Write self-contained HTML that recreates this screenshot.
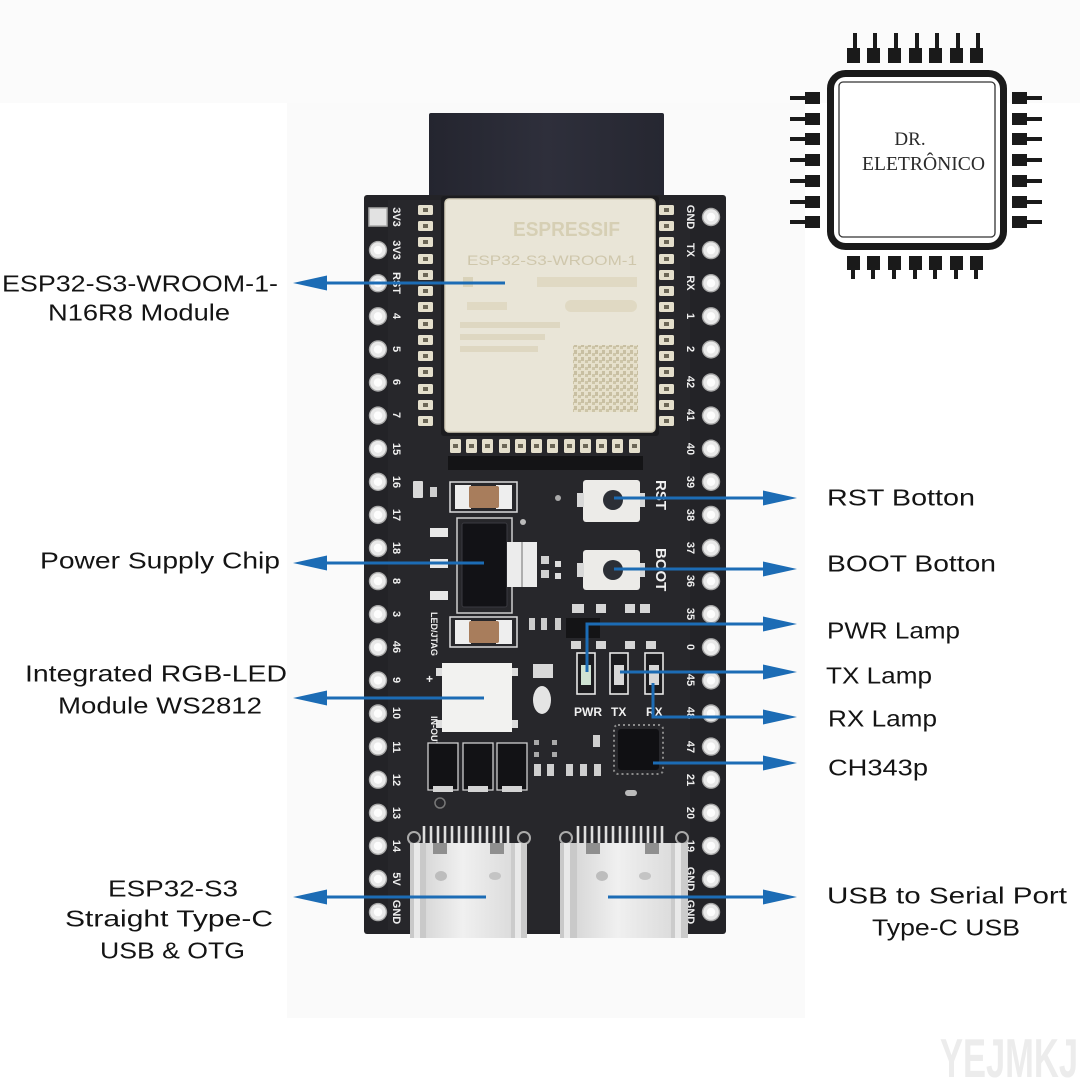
<!DOCTYPE html>
<html><head><meta charset="utf-8">
<style>
html,body{margin:0;padding:0;background:#fff;width:1080px;height:1080px;overflow:hidden;}
svg{display:block;}
.lbl{font-family:"Liberation Sans",sans-serif;font-size:23px;fill:#141414;}
.pin{font-family:"Liberation Sans",sans-serif;font-size:11px;font-weight:bold;fill:#efefef;}
.silk{font-family:"Liberation Sans",sans-serif;font-weight:bold;fill:#f0f0f0;}
</style></head><body>
<svg width="1080" height="1080" viewBox="0 0 1080 1080" xmlns="http://www.w3.org/2000/svg">
<defs>
<g id="hole"><circle r="9.2" fill="#a9a9a9"/><circle r="7.8" fill="#e9e9e9"/><circle r="4.2" fill="#fdfdfd"/></g>
<linearGradient id="silver" x1="0" y1="0" x2="1" y2="0">
 <stop offset="0" stop-color="#cfcfcf"/><stop offset="0.45" stop-color="#f0f0f0"/><stop offset="1" stop-color="#d6d6d6"/>
</linearGradient>
<linearGradient id="ant" x1="0" y1="0" x2="1" y2="0">
 <stop offset="0" stop-color="#24252f"/><stop offset="0.5" stop-color="#2e2f3b"/><stop offset="1" stop-color="#262731"/>
</linearGradient>
<pattern id="qr" width="7" height="7" patternUnits="userSpaceOnUse">
 <rect width="7" height="7" fill="#e6e0cb"/><rect width="3" height="4" fill="#c8bfa2"/><rect x="4" y="3" width="3" height="3" fill="#cdc5a8"/>
</pattern>
<g id="cpad"><rect width="15" height="10" rx="1.5" fill="#e4dfcc"/><rect x="5" y="3" width="5" height="4" fill="#6b6656"/></g>
<g id="bpad"><rect width="11" height="14" rx="1.5" fill="#e4dfcc"/><rect x="3" y="5" width="5" height="4" fill="#6b6656"/></g>
</defs>

<!-- backgrounds -->
<rect width="1080" height="1080" fill="#ffffff"/>
<rect x="0" y="0" width="1080" height="103" fill="#fbfbfb"/>
<rect x="287" y="103" width="518" height="915" fill="#fafafa"/>

<!-- antenna -->
<rect x="429" y="113" width="235" height="92" rx="2" fill="url(#ant)"/>

<!-- PCB -->
<rect x="364" y="195" width="362" height="739" rx="3" fill="#232327"/>
<rect x="388" y="200" width="302" height="730" fill="#27272b"/>

<!-- module -->
<rect x="441" y="196" width="218" height="240" rx="3" fill="#1c1c1f"/>
<rect x="445" y="199" width="210" height="233" rx="4" fill="#e9e5d7" stroke="#d5cfbb" stroke-width="1.5"/>
<text x="513" y="236" font-family="Liberation Sans,sans-serif" font-weight="bold" font-size="20" fill="#d6cfb4" textLength="107" lengthAdjust="spacingAndGlyphs">ESPRESSIF</text>
<text x="467" y="265" font-family="Liberation Sans,sans-serif" font-size="14" fill="#cfc7ac" textLength="170" lengthAdjust="spacingAndGlyphs">ESP32-S3-WROOM-1</text>
<rect x="463" y="277" width="10" height="10" fill="#d9d2b9"/>
<rect x="537" y="277" width="100" height="10" fill="#e0d9c3"/>
<rect x="467" y="302" width="40" height="8" fill="#e0d9c3"/>
<rect x="565" y="300" width="72" height="12" rx="6" fill="#e0d9c3"/>
<rect x="460" y="322" width="100" height="6" fill="#ded7c1"/>
<rect x="460" y="334" width="85" height="6" fill="#ded7c1"/>
<rect x="460" y="346" width="78" height="6" fill="#ded7c1"/>
<rect x="573" y="345" width="65" height="67" fill="url(#qr)"/>

<!-- castellated pads -->
<use href="#cpad" x="418" y="205"/><use href="#cpad" x="418" y="221"/><use href="#cpad" x="418" y="237"/><use href="#cpad" x="418" y="254"/><use href="#cpad" x="418" y="270"/><use href="#cpad" x="418" y="286"/><use href="#cpad" x="418" y="302"/><use href="#cpad" x="418" y="319"/><use href="#cpad" x="418" y="335"/><use href="#cpad" x="418" y="351"/><use href="#cpad" x="418" y="367"/><use href="#cpad" x="418" y="384"/><use href="#cpad" x="418" y="400"/><use href="#cpad" x="418" y="416"/>
<use href="#cpad" x="659" y="205"/><use href="#cpad" x="659" y="221"/><use href="#cpad" x="659" y="237"/><use href="#cpad" x="659" y="254"/><use href="#cpad" x="659" y="270"/><use href="#cpad" x="659" y="286"/><use href="#cpad" x="659" y="302"/><use href="#cpad" x="659" y="319"/><use href="#cpad" x="659" y="335"/><use href="#cpad" x="659" y="351"/><use href="#cpad" x="659" y="367"/><use href="#cpad" x="659" y="384"/><use href="#cpad" x="659" y="400"/><use href="#cpad" x="659" y="416"/>
<use href="#bpad" x="450" y="439"/><use href="#bpad" x="466" y="439"/><use href="#bpad" x="482" y="439"/><use href="#bpad" x="499" y="439"/><use href="#bpad" x="515" y="439"/><use href="#bpad" x="531" y="439"/><use href="#bpad" x="547" y="439"/><use href="#bpad" x="564" y="439"/><use href="#bpad" x="580" y="439"/><use href="#bpad" x="596" y="439"/><use href="#bpad" x="612" y="439"/><use href="#bpad" x="629" y="439"/>
<rect x="448" y="456" width="195" height="14" fill="#141416"/>

<!-- pin holes -->
<rect x="369" y="208" width="18" height="18" fill="#e2e2e2" stroke="#a9a9a9" stroke-width="1.5"/>
<use href="#hole" x="378" y="250.1"/><use href="#hole" x="378" y="283.2"/><use href="#hole" x="378" y="316.3"/><use href="#hole" x="378" y="349.4"/><use href="#hole" x="378" y="382.5"/><use href="#hole" x="378" y="415.6"/><use href="#hole" x="378" y="448.7"/><use href="#hole" x="378" y="481.8"/><use href="#hole" x="378" y="514.9"/><use href="#hole" x="378" y="548"/><use href="#hole" x="378" y="581.1"/><use href="#hole" x="378" y="614.2"/><use href="#hole" x="378" y="647.3"/><use href="#hole" x="378" y="680.4"/><use href="#hole" x="378" y="713.5"/><use href="#hole" x="378" y="746.6"/><use href="#hole" x="378" y="779.7"/><use href="#hole" x="378" y="812.8"/><use href="#hole" x="378" y="845.9"/><use href="#hole" x="378" y="879"/><use href="#hole" x="378" y="912.1"/>
<use href="#hole" x="711" y="217"/><use href="#hole" x="711" y="250.1"/><use href="#hole" x="711" y="283.2"/><use href="#hole" x="711" y="316.3"/><use href="#hole" x="711" y="349.4"/><use href="#hole" x="711" y="382.5"/><use href="#hole" x="711" y="415.6"/><use href="#hole" x="711" y="448.7"/><use href="#hole" x="711" y="481.8"/><use href="#hole" x="711" y="514.9"/><use href="#hole" x="711" y="548"/><use href="#hole" x="711" y="581.1"/><use href="#hole" x="711" y="614.2"/><use href="#hole" x="711" y="647.3"/><use href="#hole" x="711" y="680.4"/><use href="#hole" x="711" y="713.5"/><use href="#hole" x="711" y="746.6"/><use href="#hole" x="711" y="779.7"/><use href="#hole" x="711" y="812.8"/><use href="#hole" x="711" y="845.9"/><use href="#hole" x="711" y="879"/><use href="#hole" x="711" y="912.1"/>

<!-- pin labels -->
<g class="pin" text-anchor="middle">
<text transform="translate(397,217) rotate(90)" dy="4">3V3</text>
<text transform="translate(397,250) rotate(90)" dy="4">3V3</text>
<text transform="translate(397,283) rotate(90)" dy="4">RST</text>
<text transform="translate(397,316) rotate(90)" dy="4">4</text>
<text transform="translate(397,349) rotate(90)" dy="4">5</text>
<text transform="translate(397,382) rotate(90)" dy="4">6</text>
<text transform="translate(397,415) rotate(90)" dy="4">7</text>
<text transform="translate(397,449) rotate(90)" dy="4">15</text>
<text transform="translate(397,482) rotate(90)" dy="4">16</text>
<text transform="translate(397,515) rotate(90)" dy="4">17</text>
<text transform="translate(397,548) rotate(90)" dy="4">18</text>
<text transform="translate(397,581) rotate(90)" dy="4">8</text>
<text transform="translate(397,614) rotate(90)" dy="4">3</text>
<text transform="translate(397,647) rotate(90)" dy="4">46</text>
<text transform="translate(397,680) rotate(90)" dy="4">9</text>
<text transform="translate(397,713) rotate(90)" dy="4">10</text>
<text transform="translate(397,747) rotate(90)" dy="4">11</text>
<text transform="translate(397,780) rotate(90)" dy="4">12</text>
<text transform="translate(397,813) rotate(90)" dy="4">13</text>
<text transform="translate(397,846) rotate(90)" dy="4">14</text>
<text transform="translate(397,879) rotate(90)" dy="4">5V</text>
<text transform="translate(397,912) rotate(90)" dy="4">GND</text>
<text transform="translate(691,217) rotate(90)" dy="4">GND</text>
<text transform="translate(691,250) rotate(90)" dy="4">TX</text>
<text transform="translate(691,283) rotate(90)" dy="4">RX</text>
<text transform="translate(691,316) rotate(90)" dy="4">1</text>
<text transform="translate(691,349) rotate(90)" dy="4">2</text>
<text transform="translate(691,382) rotate(90)" dy="4">42</text>
<text transform="translate(691,415) rotate(90)" dy="4">41</text>
<text transform="translate(691,449) rotate(90)" dy="4">40</text>
<text transform="translate(691,482) rotate(90)" dy="4">39</text>
<text transform="translate(691,515) rotate(90)" dy="4">38</text>
<text transform="translate(691,548) rotate(90)" dy="4">37</text>
<text transform="translate(691,581) rotate(90)" dy="4">36</text>
<text transform="translate(691,614) rotate(90)" dy="4">35</text>
<text transform="translate(691,647) rotate(90)" dy="4">0</text>
<text transform="translate(691,680) rotate(90)" dy="4">45</text>
<text transform="translate(691,713) rotate(90)" dy="4">48</text>
<text transform="translate(691,747) rotate(90)" dy="4">47</text>
<text transform="translate(691,780) rotate(90)" dy="4">21</text>
<text transform="translate(691,813) rotate(90)" dy="4">20</text>
<text transform="translate(691,846) rotate(90)" dy="4">19</text>
<text transform="translate(691,879) rotate(90)" dy="4">GND</text>
<text transform="translate(691,912) rotate(90)" dy="4">GND</text>
</g>

<!-- small parts top-left -->
<rect x="413" y="481" width="10" height="17" rx="1" fill="#d9d9d9"/>
<rect x="430" y="487" width="7" height="10" fill="#cfcfcf"/>
<circle cx="523" cy="522" r="3" fill="#bbb"/>
<circle cx="558" cy="498" r="3" fill="#aaa"/>

<!-- capacitor top -->
<rect x="450" y="482" width="67" height="30" fill="none" stroke="#dcdcdc" stroke-width="1.5"/>
<rect x="455" y="485" width="16" height="24" fill="#eeeeee"/>
<rect x="496" y="485" width="16" height="24" fill="#eeeeee"/>
<rect x="469" y="486" width="30" height="22" rx="2" fill="#a87d5c"/>

<!-- power chip -->
<rect x="457" y="518" width="55" height="95" fill="none" stroke="#cfcfcf" stroke-width="1.5"/>
<rect x="430" y="528" width="18" height="9" fill="#e8e8e8"/>
<rect x="430" y="559" width="18" height="9" fill="#e8e8e8"/>
<rect x="430" y="591" width="18" height="9" fill="#e8e8e8"/>
<rect x="462" y="523" width="45" height="84" rx="2" fill="#121216" stroke="#3a3a40" stroke-width="1"/>
<rect x="507" y="542" width="30" height="45" fill="#ececec"/>
<line x1="522" y1="542" x2="522" y2="587" stroke="#999" stroke-width="1.5"/>
<rect x="541" y="556" width="8" height="8" fill="#d0d0d0"/>
<rect x="541" y="570" width="8" height="8" fill="#d0d0d0"/>

<!-- capacitor bottom -->
<rect x="450" y="617" width="67" height="30" fill="none" stroke="#dcdcdc" stroke-width="1.5"/>
<rect x="455" y="620" width="16" height="24" fill="#eeeeee"/>
<rect x="496" y="620" width="16" height="24" fill="#eeeeee"/>
<rect x="469" y="621" width="30" height="22" rx="2" fill="#a87d5c"/>
<text class="silk" font-size="9" transform="translate(431,612) rotate(90)">LED/JTAG</text>
<text class="silk" font-size="12" x="426" y="683">+</text>

<!-- RGB LED -->
<rect x="442" y="663" width="70" height="69" fill="#f2f2f0"/>
<rect x="436" y="668" width="6" height="8" fill="#ddd"/>
<rect x="436" y="720" width="6" height="8" fill="#ddd"/>
<rect x="512" y="668" width="6" height="8" fill="#ddd"/>
<rect x="512" y="720" width="6" height="8" fill="#ddd"/>
<text class="silk" font-size="9" transform="translate(431,716) rotate(90)">IN-OUT</text>

<!-- RGB marker -->
<rect x="533" y="664" width="20" height="14" fill="#d8d8d8"/>
<ellipse cx="542" cy="700" rx="9" ry="14" fill="#e4e4e4"/>

<!-- buttons -->
<rect x="583" y="480" width="57" height="42" rx="3" fill="#ecebe8"/>
<rect x="577" y="493" width="7" height="14" fill="#d8d8d8"/>
<rect x="640" y="493" width="5" height="14" fill="#d8d8d8"/>
<circle cx="613" cy="500" r="10" fill="#2c2f36"/>
<rect x="583" y="550" width="57" height="40" rx="3" fill="#ecebe8"/>
<rect x="577" y="563" width="7" height="14" fill="#d8d8d8"/>
<rect x="640" y="563" width="5" height="14" fill="#d8d8d8"/>
<circle cx="613" cy="570" r="10" fill="#2c2f36"/>
<rect x="555" y="561" width="6" height="6" fill="#ddd"/>
<rect x="555" y="573" width="6" height="6" fill="#ddd"/>
<text class="silk" font-size="15" transform="translate(656,480) rotate(90)">RST</text>
<text class="silk" font-size="15" transform="translate(656,548) rotate(90)">BOOT</text>

<!-- resistor array / small parts above LEDs -->
<rect x="566" y="618" width="34" height="20" fill="#141416"/>
<rect x="572" y="604" width="12" height="9" fill="#d6d6d6"/>
<rect x="596" y="604" width="10" height="9" fill="#d6d6d6"/>
<rect x="625" y="604" width="10" height="9" fill="#d6d6d6"/>
<rect x="640" y="604" width="10" height="9" fill="#d6d6d6"/>
<rect x="571" y="641" width="10" height="8" fill="#d6d6d6"/>
<rect x="596" y="641" width="10" height="8" fill="#d6d6d6"/>
<rect x="625" y="641" width="10" height="8" fill="#d6d6d6"/>
<rect x="646" y="641" width="10" height="8" fill="#d6d6d6"/>
<rect x="529" y="618" width="6" height="12" fill="#ccc"/>
<rect x="541" y="618" width="6" height="12" fill="#ccc"/>
<rect x="555" y="618" width="6" height="12" fill="#ccc"/>

<!-- LEDs -->
<rect x="577" y="653" width="18" height="41" fill="#1c1c1f" stroke="#e6e6e6" stroke-width="1.6"/>
<rect x="581" y="665" width="10" height="20" fill="#cfe3d2"/>
<rect x="610" y="653" width="18" height="41" fill="#1c1c1f" stroke="#e6e6e6" stroke-width="1.6"/>
<rect x="614" y="665" width="10" height="20" fill="#d8d8d8"/>
<rect x="645" y="653" width="18" height="41" fill="#1c1c1f" stroke="#e6e6e6" stroke-width="1.6"/>
<rect x="649" y="665" width="10" height="20" fill="#d8d8d8"/>
<text class="silk" font-size="12" x="574" y="716">PWR</text>
<text class="silk" font-size="12" x="611" y="716">TX</text>
<text class="silk" font-size="12" x="646" y="716">RX</text>

<!-- CH343 QFN -->
<rect x="614" y="725" width="49" height="49" rx="4" fill="none" stroke="#8a8a8a" stroke-width="2" stroke-dasharray="2 3"/>
<rect x="618" y="729" width="41" height="41" rx="3" fill="#101013"/>

<!-- diodes row -->
<rect x="428" y="743" width="30" height="47" fill="#121215" stroke="#cfcfcf" stroke-width="1.3"/>
<rect x="463" y="743" width="30" height="47" fill="#121215" stroke="#cfcfcf" stroke-width="1.3"/>
<rect x="497" y="743" width="30" height="47" fill="#121215" stroke="#cfcfcf" stroke-width="1.3"/>
<rect x="433" y="786" width="20" height="6" fill="#d4d4d4"/>
<rect x="468" y="786" width="20" height="6" fill="#d4d4d4"/>
<rect x="502" y="786" width="20" height="6" fill="#d4d4d4"/>
<circle cx="440" cy="803" r="5" fill="none" stroke="#777" stroke-width="1.5"/>
<!-- small parts cluster -->
<rect x="534" y="764" width="7" height="12" fill="#cfcfcf"/>
<rect x="547" y="764" width="7" height="12" fill="#cfcfcf"/>
<rect x="566" y="764" width="7" height="12" fill="#cfcfcf"/>
<rect x="580" y="764" width="7" height="12" fill="#cfcfcf"/>
<rect x="594" y="764" width="7" height="12" fill="#cfcfcf"/>
<rect x="593" y="735" width="7" height="12" fill="#cfcfcf"/>
<rect x="534" y="740" width="5" height="5" fill="#aaa"/>
<rect x="552" y="740" width="5" height="5" fill="#aaa"/>
<rect x="534" y="752" width="5" height="5" fill="#aaa"/>
<rect x="552" y="752" width="5" height="5" fill="#aaa"/>
<rect x="625" y="790" width="12" height="6" rx="3" fill="#bbb"/>

<!-- USB left -->
<g stroke="#dedede" stroke-width="2.6">
<line x1="424" y1="826" x2="424" y2="846"/><line x1="431" y1="826" x2="431" y2="846"/><line x1="438" y1="826" x2="438" y2="846"/><line x1="445" y1="826" x2="445" y2="846"/><line x1="452" y1="826" x2="452" y2="846"/><line x1="459" y1="826" x2="459" y2="846"/><line x1="466" y1="826" x2="466" y2="846"/><line x1="473" y1="826" x2="473" y2="846"/><line x1="480" y1="826" x2="480" y2="846"/><line x1="487" y1="826" x2="487" y2="846"/><line x1="494" y1="826" x2="494" y2="846"/><line x1="501" y1="826" x2="501" y2="846"/><line x1="508" y1="826" x2="508" y2="846"/>
</g>
<circle cx="414" cy="838" r="6" fill="none" stroke="#aaa" stroke-width="2"/>
<circle cx="524" cy="838" r="6" fill="none" stroke="#aaa" stroke-width="2"/>
<rect x="410" y="843" width="117" height="95" fill="url(#silver)"/>
<rect x="410" y="843" width="16" height="95" fill="#c9c9c9"/>
<rect x="511" y="843" width="16" height="95" fill="#cbcbcb"/>
<rect x="414" y="843" width="6" height="95" fill="#e9e9e9"/>
<rect x="515" y="843" width="6" height="95" fill="#e9e9e9"/>
<rect x="433" y="843" width="14" height="11" fill="#8f8f8f"/>
<rect x="490" y="843" width="14" height="11" fill="#8f8f8f"/>
<ellipse cx="441" cy="876" rx="6" ry="5" fill="#bdbdbd"/>
<ellipse cx="495" cy="876" rx="6" ry="4" fill="#c4c4c4"/>

<!-- USB right -->
<g stroke="#dedede" stroke-width="2.6">
<line x1="578" y1="826" x2="578" y2="846"/><line x1="585" y1="826" x2="585" y2="846"/><line x1="592" y1="826" x2="592" y2="846"/><line x1="599" y1="826" x2="599" y2="846"/><line x1="606" y1="826" x2="606" y2="846"/><line x1="613" y1="826" x2="613" y2="846"/><line x1="620" y1="826" x2="620" y2="846"/><line x1="627" y1="826" x2="627" y2="846"/><line x1="634" y1="826" x2="634" y2="846"/><line x1="641" y1="826" x2="641" y2="846"/><line x1="648" y1="826" x2="648" y2="846"/><line x1="655" y1="826" x2="655" y2="846"/><line x1="662" y1="826" x2="662" y2="846"/>
</g>
<circle cx="566" cy="838" r="6" fill="none" stroke="#aaa" stroke-width="2"/>
<circle cx="682" cy="838" r="6" fill="none" stroke="#aaa" stroke-width="2"/>
<rect x="560" y="843" width="128" height="95" fill="url(#silver)"/>
<rect x="560" y="843" width="17" height="95" fill="#c9c9c9"/>
<rect x="671" y="843" width="17" height="95" fill="#cbcbcb"/>
<rect x="564" y="843" width="6" height="95" fill="#e9e9e9"/>
<rect x="675" y="843" width="6" height="95" fill="#e9e9e9"/>
<rect x="586" y="843" width="14" height="11" fill="#8f8f8f"/>
<rect x="645" y="843" width="14" height="11" fill="#8f8f8f"/>
<ellipse cx="602" cy="876" rx="6" ry="5" fill="#bdbdbd"/>
<ellipse cx="645" cy="876" rx="6" ry="4" fill="#c4c4c4"/>

<!-- arrows -->
<g stroke="#1c6cb5" stroke-width="3" fill="none">
<line x1="322" y1="283" x2="505" y2="283"/>
<line x1="322" y1="563" x2="484" y2="563"/>
<line x1="322" y1="698" x2="484" y2="698"/>
<line x1="322" y1="897" x2="486" y2="897"/>
<line x1="614" y1="498" x2="768" y2="498"/>
<line x1="614" y1="569" x2="768" y2="569"/>
<polyline points="587,672 587,624 768,624"/>
<line x1="620" y1="672" x2="768" y2="672"/>
<polyline points="653,683 653,717 768,717"/>
<line x1="653" y1="763" x2="768" y2="763"/>
<line x1="608" y1="897" x2="768" y2="897"/>
</g>
<g fill="#1c6cb5">
<polygon points="293,283 327,275.5 327,290.5"/>
<polygon points="293,563 327,555.5 327,570.5"/>
<polygon points="293,698 327,690.5 327,705.5"/>
<polygon points="293,897 327,889.5 327,904.5"/>
<polygon points="797,498 763,490.5 763,505.5"/>
<polygon points="797,569 763,561.5 763,576.5"/>
<polygon points="797,624 763,616.5 763,631.5"/>
<polygon points="797,672 763,664.5 763,679.5"/>
<polygon points="797,717 763,709.5 763,724.5"/>
<polygon points="797,763 763,755.5 763,770.5"/>
<polygon points="797,897 763,889.5 763,904.5"/>
</g>

<!-- labels -->
<g class="lbl">
<text x="2" y="291.5" textLength="276" lengthAdjust="spacingAndGlyphs">ESP32-S3-WROOM-1-</text>
<text x="48" y="320.5" textLength="182" lengthAdjust="spacingAndGlyphs">N16R8 Module</text>
<text x="40" y="568.5" textLength="240" lengthAdjust="spacingAndGlyphs">Power Supply Chip</text>
<text x="25" y="681.5" textLength="262" lengthAdjust="spacingAndGlyphs">Integrated RGB-LED</text>
<text x="58" y="713.5" textLength="204" lengthAdjust="spacingAndGlyphs">Module WS2812</text>
<text x="108" y="896.5" textLength="130" lengthAdjust="spacingAndGlyphs">ESP32-S3</text>
<text x="65" y="926.5" textLength="208" lengthAdjust="spacingAndGlyphs">Straight Type-C</text>
<text x="100" y="958.5" textLength="145" lengthAdjust="spacingAndGlyphs">USB &amp; OTG</text>
<text x="827" y="505.5" textLength="148" lengthAdjust="spacingAndGlyphs">RST Botton</text>
<text x="827" y="571.5" textLength="169" lengthAdjust="spacingAndGlyphs">BOOT Botton</text>
<text x="827" y="638.5" textLength="133" lengthAdjust="spacingAndGlyphs">PWR Lamp</text>
<text x="826" y="683.5" textLength="106" lengthAdjust="spacingAndGlyphs">TX Lamp</text>
<text x="828" y="726.5" textLength="109" lengthAdjust="spacingAndGlyphs">RX Lamp</text>
<text x="828" y="775.5" textLength="100" lengthAdjust="spacingAndGlyphs">CH343p</text>
<text x="827" y="903.5" textLength="240" lengthAdjust="spacingAndGlyphs">USB to Serial Port</text>
<text x="872" y="935.5" textLength="148" lengthAdjust="spacingAndGlyphs">Type-C USB</text>
</g>

<!-- logo -->
<g fill="#1a1a1a">
<!-- top pins -->
<rect x="847" y="48" width="13" height="15"/><rect x="853" y="33" width="4" height="16"/>
<rect x="867" y="48" width="13" height="15"/><rect x="873" y="33" width="4" height="16"/>
<rect x="888" y="48" width="13" height="15"/><rect x="894" y="33" width="4" height="16"/>
<rect x="909" y="48" width="13" height="15"/><rect x="915" y="33" width="4" height="16"/>
<rect x="929" y="48" width="13" height="15"/><rect x="935" y="33" width="4" height="16"/>
<rect x="950" y="48" width="13" height="15"/><rect x="956" y="33" width="4" height="16"/>
<rect x="970" y="48" width="13" height="15"/><rect x="976" y="33" width="4" height="16"/>
<!-- bottom pins -->
<rect x="847" y="256" width="13" height="14"/><rect x="851" y="269" width="4" height="10"/>
<rect x="867" y="256" width="13" height="14"/><rect x="871" y="269" width="4" height="10"/>
<rect x="888" y="256" width="13" height="14"/><rect x="892" y="269" width="4" height="10"/>
<rect x="909" y="256" width="13" height="14"/><rect x="913" y="269" width="4" height="10"/>
<rect x="929" y="256" width="13" height="14"/><rect x="933" y="269" width="4" height="10"/>
<rect x="950" y="256" width="13" height="14"/><rect x="954" y="269" width="4" height="10"/>
<rect x="970" y="256" width="13" height="14"/><rect x="974" y="269" width="4" height="10"/>
<!-- left pins -->
<rect x="805" y="92" width="15" height="12"/><rect x="790" y="96" width="16" height="4"/>
<rect x="805" y="113" width="15" height="12"/><rect x="790" y="117" width="16" height="4"/>
<rect x="805" y="133" width="15" height="12"/><rect x="790" y="137" width="16" height="4"/>
<rect x="805" y="154" width="15" height="12"/><rect x="790" y="158" width="16" height="4"/>
<rect x="805" y="175" width="15" height="12"/><rect x="790" y="179" width="16" height="4"/>
<rect x="805" y="196" width="15" height="12"/><rect x="790" y="200" width="16" height="4"/>
<rect x="805" y="216" width="15" height="12"/><rect x="790" y="220" width="16" height="4"/>
<!-- right pins -->
<rect x="1012" y="92" width="15" height="12"/><rect x="1026" y="96" width="16" height="4"/>
<rect x="1012" y="113" width="15" height="12"/><rect x="1026" y="117" width="16" height="4"/>
<rect x="1012" y="133" width="15" height="12"/><rect x="1026" y="137" width="16" height="4"/>
<rect x="1012" y="154" width="15" height="12"/><rect x="1026" y="158" width="16" height="4"/>
<rect x="1012" y="175" width="15" height="12"/><rect x="1026" y="179" width="16" height="4"/>
<rect x="1012" y="196" width="15" height="12"/><rect x="1026" y="200" width="16" height="4"/>
<rect x="1012" y="216" width="15" height="12"/><rect x="1026" y="220" width="16" height="4"/>
</g>
<rect x="830.5" y="73.5" width="173" height="173" rx="15" fill="#fff" stroke="#1a1a1a" stroke-width="7"/>
<rect x="839" y="82" width="156" height="155" rx="4" fill="none" stroke="#333" stroke-width="1.3"/>
<text x="910" y="145" text-anchor="middle" font-family="Liberation Serif,serif" font-size="19" fill="#2a2a2a">DR.</text>
<text x="862" y="170" font-family="Liberation Serif,serif" font-size="19.5" fill="#2a2a2a" textLength="123" lengthAdjust="spacingAndGlyphs">ELETRÔNICO</text>

<!-- watermark -->
<text x="940" y="1077" font-family="Liberation Sans Narrow,Liberation Sans,sans-serif" font-weight="bold" font-size="55" fill="#ececec" textLength="138" lengthAdjust="spacingAndGlyphs">YEJMKJ</text>
</svg>
</body></html>
